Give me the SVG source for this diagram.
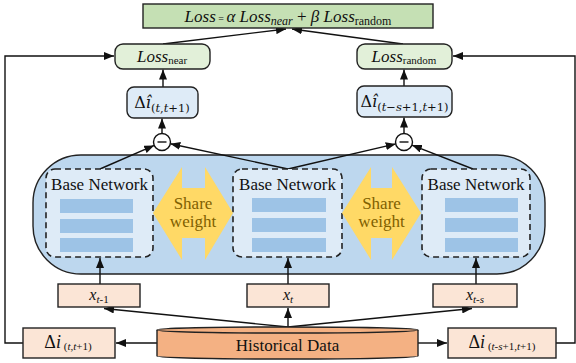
<svg xmlns="http://www.w3.org/2000/svg" width="576" height="363" viewBox="0 0 576 363" font-family="'Liberation Serif', 'Times New Roman', Times, serif">
  <defs>
    <marker id="ah" viewBox="0 0 10 8" refX="10" refY="4" markerWidth="10" markerHeight="8" orient="auto" markerUnits="userSpaceOnUse">
      <path d="M0,0 L10,4 L0,8 z" fill="#111"/>
    </marker>
    <style>
      .ln { fill: none; stroke: #111; stroke-width: 1.4; }
      .box { stroke: #222; stroke-width: 1.4; }
      .sum { fill: #c5e0b4; }
      .loss { fill: #e2f0d9; }
      .pred { fill: #deebf7; }
      .inp { fill: #fbe5d6; }
      .net { fill: #deebf7; stroke: #222; stroke-width: 1.6; stroke-dasharray: 6 4; }
      .bar { fill: #9dc3e6; }
      .share { fill: #ffd966; }
      text { fill: #111; }
      .sw { fill: #7f6000; font-size: 17px; text-anchor: middle; }
      .it { font-style: italic; }
    </style>
  </defs>

  <!-- shared container -->
  <g id="container">
    <rect x="33" y="155" width="512" height="119" rx="48" ry="48" fill="#bdd7ee" stroke="#222" stroke-width="1.4"/>
  </g>

  <!-- connectors -->
  <g id="connectors">
    <path class="ln" d="M163,44 L286,29" marker-end="url(#ah)"/>
    <path class="ln" d="M403,44 L292,29" marker-end="url(#ah)"/>
    <path class="ln" d="M163,87 V69.5" marker-end="url(#ah)"/>
    <path class="ln" d="M404,86 V69.5" marker-end="url(#ah)"/>
    <path class="ln" d="M162,133.5 V118.5" marker-end="url(#ah)"/>
    <path class="ln" d="M404,133.5 V117.5" marker-end="url(#ah)"/>
    <path class="ln" d="M100,169 L154.2,145.4" marker-end="url(#ah)"/>
    <path class="ln" d="M288,169 L170.3,143.8" marker-end="url(#ah)"/>
    <path class="ln" d="M288,169 L395.7,143.9" marker-end="url(#ah)"/>
    <path class="ln" d="M473,169 L411.9,145.1" marker-end="url(#ah)"/>
    <path class="ln" d="M100,284 V258" marker-end="url(#ah)"/>
    <path class="ln" d="M288,284 V258" marker-end="url(#ah)"/>
    <path class="ln" d="M476,284 V258" marker-end="url(#ah)"/>
    <path class="ln" d="M288,327 V308" marker-end="url(#ah)"/>
    <path class="ln" d="M288,327 L104,308.5" marker-end="url(#ah)"/>
    <path class="ln" d="M288,327 L472,308.5" marker-end="url(#ah)"/>
    <path class="ln" d="M157,343 H116" marker-end="url(#ah)"/>
    <path class="ln" d="M418,343 H447" marker-end="url(#ah)"/>
    <path class="ln" d="M23,343 H5 V56 H114" marker-end="url(#ah)"/>
    <path class="ln" d="M556,343 H575 V56 H453" marker-end="url(#ah)"/>
  </g>

  <!-- total loss -->
  <g id="loss-total">
    <rect class="box sum" x="143" y="4" width="290" height="24"/>
    <text class="it" x="288" y="22" font-size="17" text-anchor="middle">Loss<tspan font-size="10" font-style="normal"> = </tspan>α Loss<tspan font-size="12" dy="3">near</tspan><tspan dy="-3" font-style="normal"> + </tspan>β Loss<tspan font-size="12" font-style="normal" dy="3">random</tspan></text>
  </g>

  <g id="loss-near">
    <rect class="box loss" x="115" y="44" width="95" height="25" rx="8"/>
    <text class="it" x="162" y="62" font-size="17" text-anchor="middle">Loss<tspan font-size="11" font-style="normal" dy="2">near</tspan></text>
  </g>

  <g id="loss-random">
    <rect class="box loss" x="357" y="44" width="95" height="25" rx="8"/>
    <text class="it" x="404" y="62" font-size="17" text-anchor="middle">Loss<tspan font-size="11" font-style="normal" dy="2">random</tspan></text>
  </g>

  <g id="pred-near">
    <rect class="box pred" x="127" y="87" width="71" height="31" rx="7"/>
    <text font-family="'DejaVu Serif', serif" x="162" y="108" font-size="16" text-anchor="middle">Δ<tspan font-style="italic">î</tspan><tspan font-size="11.5" dy="4">(<tspan font-style="italic">t</tspan>,<tspan font-style="italic">t</tspan>+1)</tspan></text>
  </g>

  <g id="pred-random">
    <rect class="box pred" x="357" y="86" width="95" height="31" rx="7"/>
    <text font-family="'DejaVu Serif', serif" x="404.5" y="107" font-size="16" text-anchor="middle">Δ<tspan font-style="italic">î</tspan><tspan font-size="11.5" dy="4">(<tspan font-style="italic">t</tspan>−<tspan font-style="italic">s</tspan>+1,<tspan font-style="italic">t</tspan>+1)</tspan></text>
  </g>

  <g id="diff-near">
    <circle cx="162" cy="142" r="8.5" fill="#fff" stroke="#111" stroke-width="1.4"/>
    <line x1="157.5" y1="142" x2="166.5" y2="142" stroke="#111" stroke-width="1.4"/>
  </g>

  <g id="diff-random">
    <circle cx="404" cy="142" r="8.5" fill="#fff" stroke="#111" stroke-width="1.4"/>
    <line x1="399.5" y1="142" x2="408.5" y2="142" stroke="#111" stroke-width="1.4"/>
  </g>

  <!-- base networks -->
  <g id="net-1">
    <rect class="net" x="46" y="169" width="107" height="88" rx="9"/>
    <text x="99.5" y="190" font-size="17" text-anchor="middle">Base Network</text>
    <rect class="bar" x="60" y="199" width="73" height="14"/>
    <rect class="bar" x="60" y="219" width="73" height="14"/>
    <rect class="bar" x="60" y="238" width="73" height="14"/>
  </g>

  <g id="net-2">
    <rect class="net" x="233" y="169" width="109" height="88" rx="9"/>
    <text x="287.5" y="190" font-size="17" text-anchor="middle">Base Network</text>
    <rect class="bar" x="252" y="198" width="74" height="14"/>
    <rect class="bar" x="252" y="218" width="74" height="14"/>
    <rect class="bar" x="252" y="238" width="74" height="14"/>
  </g>

  <g id="net-3">
    <rect class="net" x="422" y="169" width="108" height="88" rx="9"/>
    <text x="476" y="190" font-size="17" text-anchor="middle">Base Network</text>
    <rect class="bar" x="445" y="198" width="73" height="14"/>
    <rect class="bar" x="445" y="218" width="73" height="14"/>
    <rect class="bar" x="445" y="238" width="73" height="14"/>
  </g>

  <!-- weight sharing arrows -->
  <g id="share-1">
    <path class="share" d="M153,213 L182,167 V188 H205 V167 L233,213 L205,260 V238 H182 V260 Z"/>
    <text class="sw" x="193" y="209">Share</text>
    <text class="sw" x="193" y="227">weight</text>
  </g>

  <g id="share-2">
    <path class="share" d="M342,213 L371,167 V188 H392 V167 L421,213 L392,260 V238 H371 V260 Z"/>
    <text class="sw" x="381.5" y="209">Share</text>
    <text class="sw" x="381.5" y="227">weight</text>
  </g>

  <!-- inputs -->
  <g id="x-prev">
    <rect class="box inp" x="58" y="284" width="82" height="23"/>
    <text class="it" x="99" y="300" font-size="16" text-anchor="middle">x<tspan font-size="11" dy="3">t</tspan><tspan font-size="11" font-style="normal">-1</tspan></text>
  </g>

  <g id="x-now">
    <rect class="box inp" x="247" y="284" width="82" height="23"/>
    <text class="it" x="288" y="300" font-size="16" text-anchor="middle">x<tspan font-size="11" dy="3">t</tspan></text>
  </g>

  <g id="x-rand">
    <rect class="box inp" x="433" y="284" width="84" height="23"/>
    <text class="it" x="475" y="300" font-size="16" text-anchor="middle">x<tspan font-size="11" dy="3">t</tspan><tspan font-size="11" font-style="normal">-</tspan><tspan font-size="11">s</tspan></text>
  </g>

  <!-- history store -->
  <g id="history">
    <path d="M157,330 A130.5,3 0 0 1 418,330 V356 A130.5,3 0 0 1 157,356 Z" fill="#f4b183" stroke="#222" stroke-width="1.4"/>
    <path d="M157,330 A130.5,3 0 0 0 418,330" fill="none" stroke="#222" stroke-width="1.4"/>
    <text x="287.5" y="351" font-size="17" text-anchor="middle">Historical Data</text>
  </g>

  <g id="target-near">
    <rect class="box inp" x="23" y="328" width="92" height="30"/>
    <text x="68" y="348" font-size="18" text-anchor="middle">Δ<tspan font-style="italic">i</tspan><tspan font-size="11" dy="2"> (<tspan font-style="italic">t</tspan>,<tspan font-style="italic">t</tspan>+1)</tspan></text>
  </g>

  <g id="target-random">
    <rect class="box inp" x="448" y="328" width="108" height="30"/>
    <text x="502" y="348" font-size="18" text-anchor="middle">Δ<tspan font-style="italic">i</tspan><tspan font-size="11" dy="2"> (<tspan font-style="italic">t</tspan>-<tspan font-style="italic">s</tspan>+1,<tspan font-style="italic">t</tspan>+1)</tspan></text>
  </g>
</svg>
